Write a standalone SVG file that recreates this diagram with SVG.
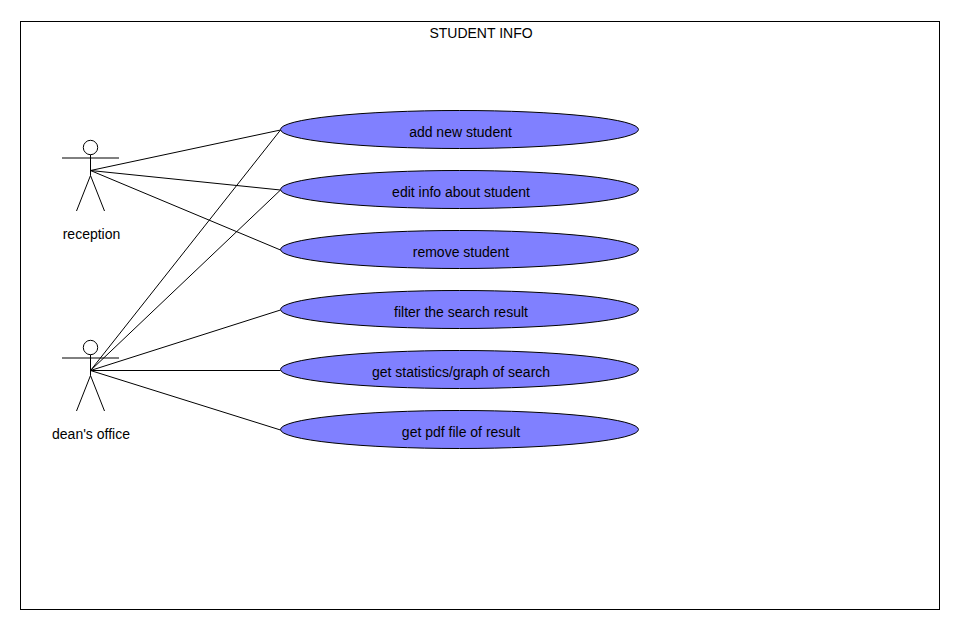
<svg xmlns="http://www.w3.org/2000/svg" width="960" height="630" viewBox="0 0 960 630">
<style>
text{font-family:"Liberation Sans",Arial,sans-serif;font-size:14px;fill:#000;text-anchor:middle}
.l{fill:none;stroke:#000;stroke-width:1}
.u{fill:#8080ff;stroke:#000;stroke-width:1}
.h{fill:#fff;stroke:#000;stroke-width:1}
</style>
<defs>
<g id="stick">
<circle class="h" cx="0" cy="-23" r="7.2"/>
<path class="l" d="M-28.500-12.500H28.500M0-15.800V5M0 5L-14 40.500M0 5L14 40.500"/>
</g>
</defs>
<rect width="960" height="630" fill="#fff"/>
<g id="boundary">
<rect class="l" x="20.500" y="21.500" width="919" height="588"/>
<text x="481" y="37.500">STUDENT INFO</text>
</g>
<g id="connectors">
<path class="l" d="M90.500 170.500L280.500 130M90.500 170.500L280.500 190M90.500 170.500L280.500 250M90.500 370.500L280.500 130M90.500 370.500L280.500 190M90.500 370.500L280.500 310M90.500 370.500H280.500M90.500 370.500L280.500 430"/>
</g>
<g id="actor-reception">
<use href="#stick" x="90.500" y="170.500"/>
<text x="91.500" y="239">reception</text>
</g>
<g id="actor-deans-office">
<use href="#stick" x="90.500" y="370.500"/>
<text x="91" y="439">dean's office</text>
</g>
<g id="uc-add"><ellipse class="u" cx="459.500" cy="129.500" rx="179" ry="19"/><text x="460.500" y="137">add new student</text></g>
<g id="uc-edit"><ellipse class="u" cx="459.500" cy="189.500" rx="179" ry="19"/><text x="461" y="197">edit info about student</text></g>
<g id="uc-remove"><ellipse class="u" cx="459.500" cy="249.500" rx="179" ry="19"/><text x="461" y="257">remove student</text></g>
<g id="uc-filter"><ellipse class="u" cx="459.500" cy="309.500" rx="179" ry="19"/><text x="461" y="317">filter the search result</text></g>
<g id="uc-stats"><ellipse class="u" cx="459.500" cy="369.500" rx="179" ry="19"/><text x="461" y="377">get statistics/graph of search</text></g>
<g id="uc-pdf"><ellipse class="u" cx="459.500" cy="429.500" rx="179" ry="19"/><text x="461" y="437">get pdf file of result</text></g>
</svg>
